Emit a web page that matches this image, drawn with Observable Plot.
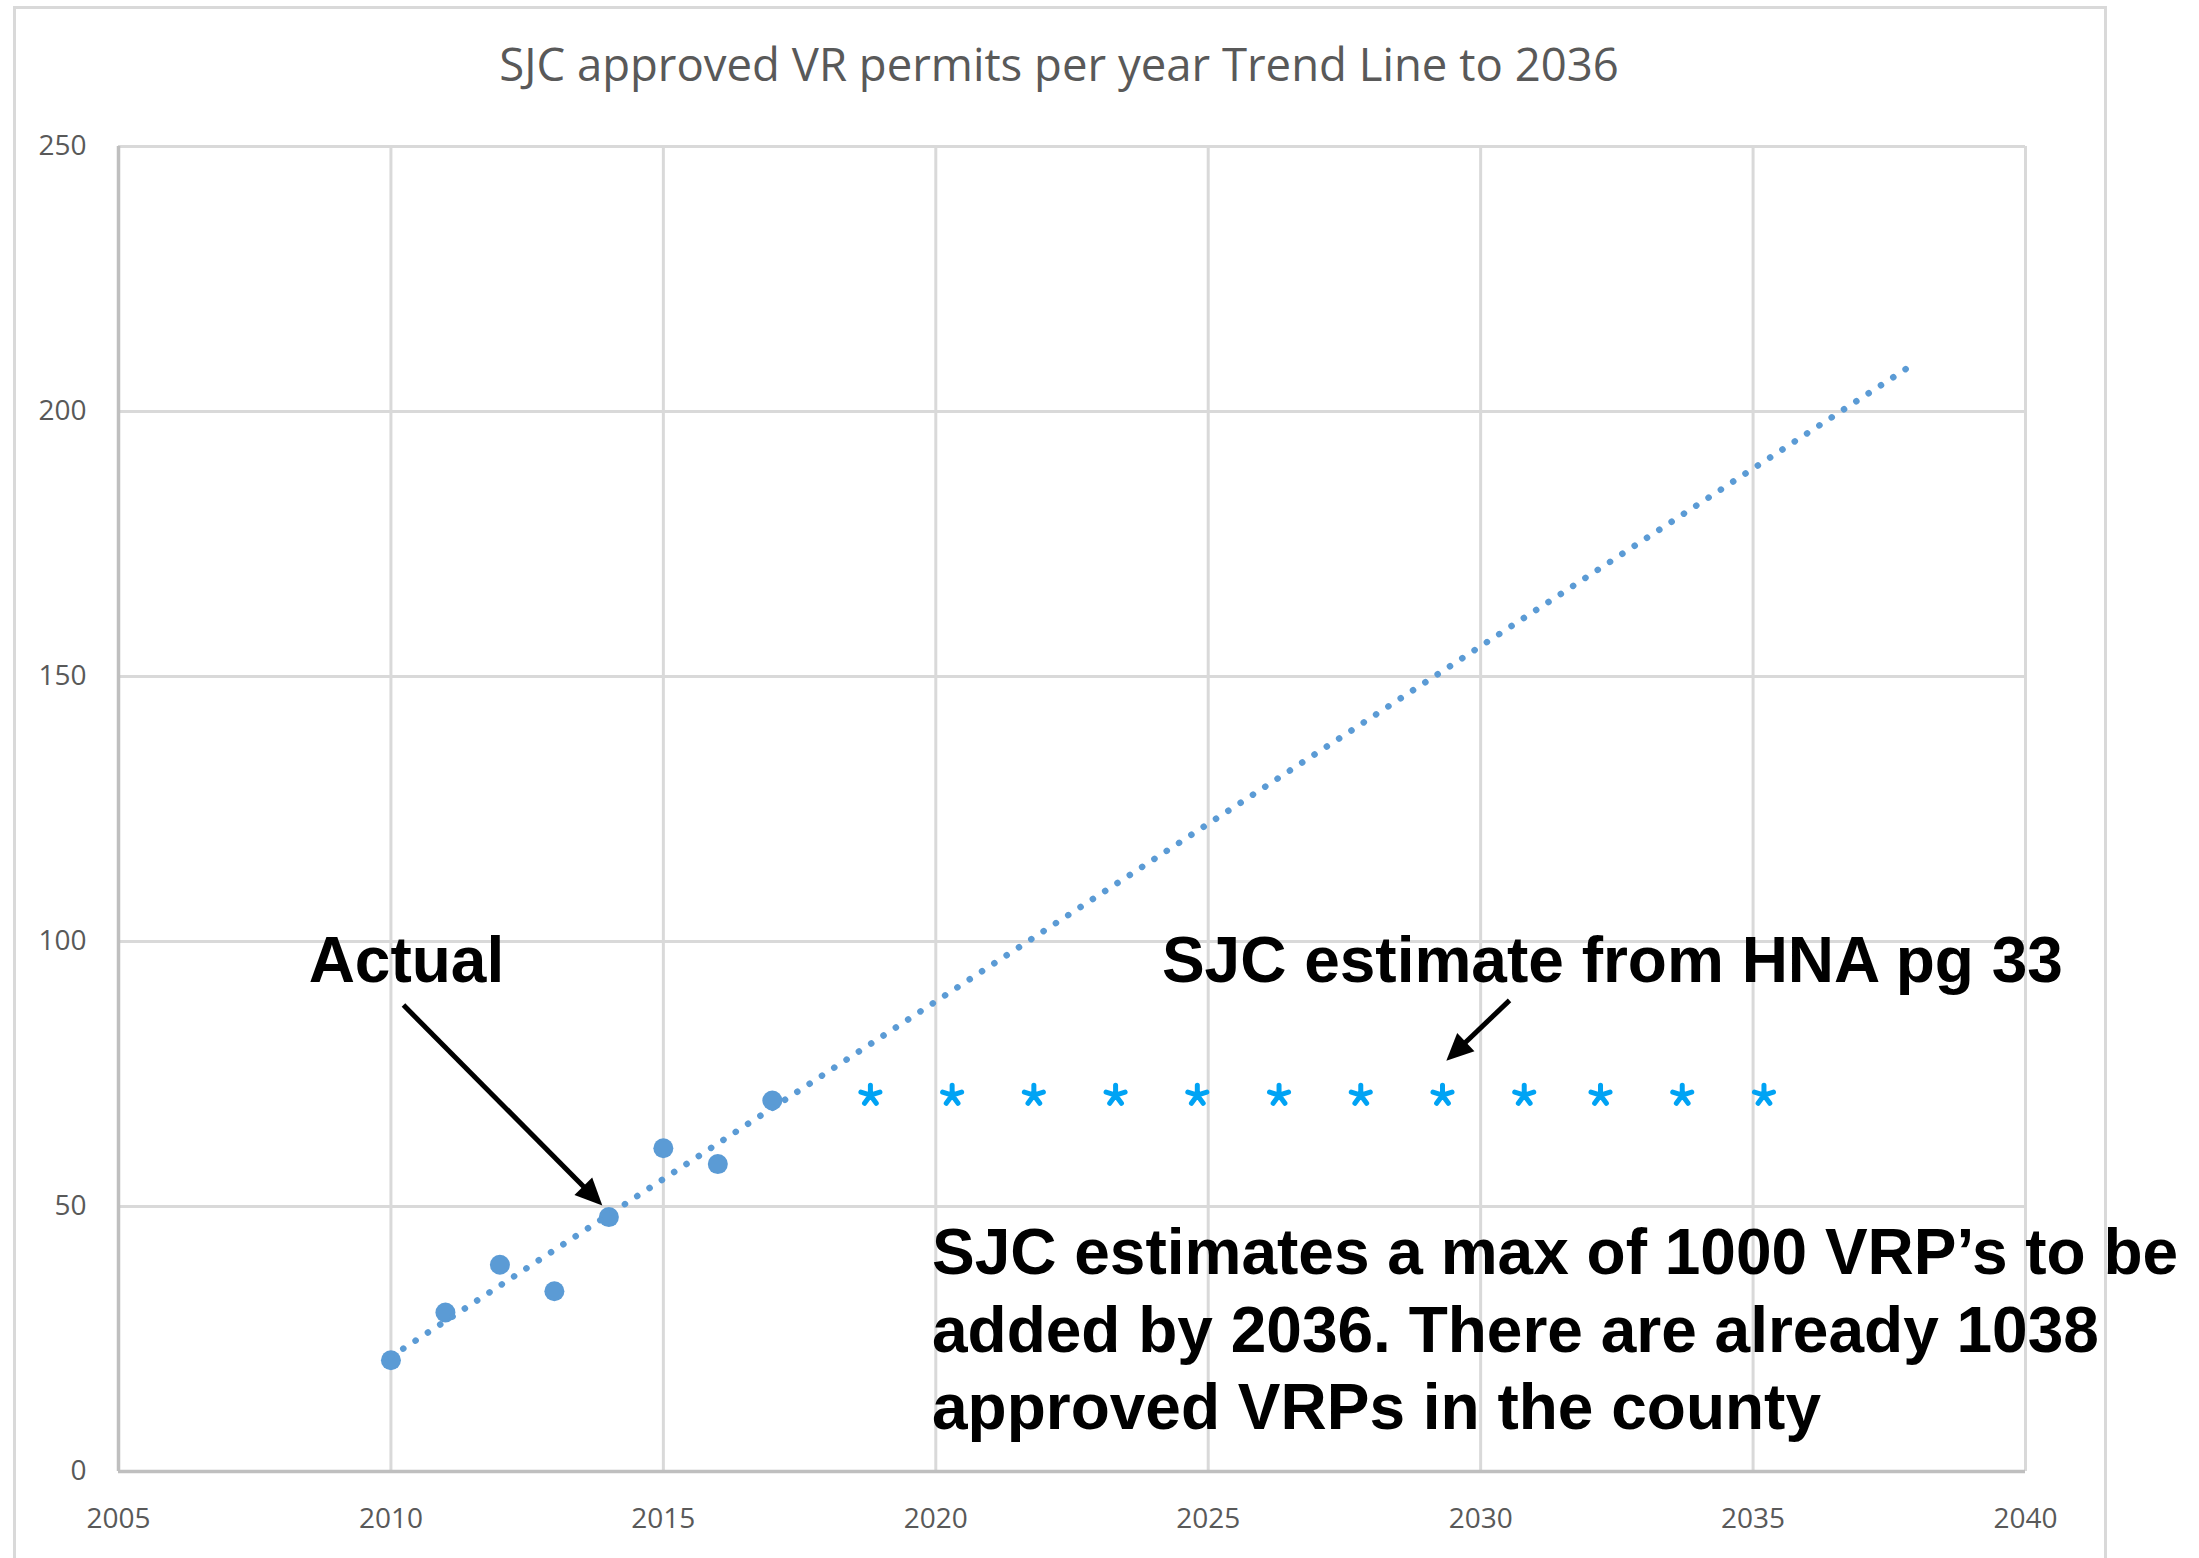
<!DOCTYPE html>
<html>
<head>
<meta charset="utf-8">
<script src="https://cdn.jsdelivr.net/npm/d3@7"></script>
<script src="https://cdn.jsdelivr.net/npm/@observablehq/plot@0.6"></script>
<style>
  html, body { margin: 0; padding: 0; background: #fff; overflow: hidden; }
  #page { position: relative; width: 2199px; height: 1558px; overflow: hidden; background: #fff; }
  #frame { position: absolute; left: 13px; top: 6px; width: 2088px; height: 1620px; border: 3px solid #d9d9d9; }
  #title { position: absolute; left: 14px; width: 2090px; top: 41px; line-height: 1; text-align: center;
           font-family: "Open Sans", sans-serif; font-size: 45.5px; color: #595959; white-space: nowrap; }
  #chart { position: absolute; left: 0; top: 0; }
</style>
</head>
<body>
<div id="page">
  <div id="frame"></div>
  <div id="title">SJC approved VR permits per year Trend Line to 2036</div>
  <div id="chart"></div>
</div>
<script>
// ---- data ----
const years = [2010, 2011, 2012, 2013, 2014, 2015, 2016, 2017];
const permits = [21, 30, 39, 34, 48, 61, 58, 70];
const trendYears = [2010, 2038];
const hnaYears = [2018.8, 2020.3, 2021.8, 2023.3, 2024.8, 2026.3, 2027.8, 2029.3, 2030.8, 2032.2, 2033.7, 2035.2];
const hnaValues = [71, 71, 71, 71, 71, 71, 71, 71, 71, 71, 71, 71];
const xTicks = [2005, 2010, 2015, 2020, 2025, 2030, 2035, 2040];
const yTicks = [0, 50, 100, 150, 200, 250];
const labelTexts = ["Actual", "SJC estimate from HNA pg 33"];
const labelYears = [2008.49, 2024.15];
const labelValues = [92.3, 92.3];
const noteText = "SJC estimates a max of 1000 VRP\u2019s to be\nadded by 2036. There are already 1038\napproved VRPs in the county";
const noteYear = 2019.93;
const noteValue = 8.0;
const arrowFromYears = [2010.23, 2030.53];
const arrowFromValues = [88.0, 88.9];
const arrowToYears = [2013.88, 2029.37];
const arrowToValues = [50.2, 77.5];

// ---- layout ----
const W = 2199, H = 1558;
const mt = 146, mr = 174, mb = 87, ml = 118;
const pxX = (W - ml - mr) / (xTicks[xTicks.length - 1] - xTicks[0]);
const pxY = (H - mt - mb) / (yTicks[yTicks.length - 1] - yTicks[0]);

// ---- derived tables ----
const actual = years.map((y, i) => ({year: y, value: permits[i]}));
const mx = d3.mean(years), my = d3.mean(permits);
const slope = d3.sum(years, (x, i) => (x - mx) * (permits[i] - my)) / d3.sum(years, x => (x - mx) ** 2);
const trend = trendYears.map(x => ({year: x, value: my + slope * (x - mx)}));
const hna = hnaYears.map((y, i) => ({year: y, value: hnaValues[i]}));
const labels = labelTexts.map((t, i) => ({text: t, year: labelYears[i], value: labelValues[i]}));
const note = [{text: noteText, year: noteYear, value: noteValue}];

const headLen = 27, headW = 25;
const arrows = arrowFromYears.map((x1, i) => {
  const y1 = arrowFromValues[i], x2 = arrowToYears[i], y2 = arrowToValues[i];
  const dx = (x2 - x1) * pxX, dy = -(y2 - y1) * pxY;
  const len = Math.hypot(dx, dy);
  const k = 1 - (headLen * 0.6) / len;
  return {x1, y1, x2, y2, xe: x1 + (x2 - x1) * k, ye: y1 + (y2 - y1) * k,
          angle: Math.atan2(dy, dx) * 180 / Math.PI};
});

const arrowHead = {
  draw(ctx) {
    ctx.moveTo(0, 0);
    ctx.lineTo(-headLen, -headW / 2);
    ctx.lineTo(-headLen, headW / 2);
    ctx.closePath();
  }
};
const asterisk = {
  draw(ctx, size) {
    const r = Math.sqrt(size / Math.PI);
    for (let k = 0; k < 5; ++k) {
      const a = (-90 + 72 * k) * Math.PI / 180;
      ctx.moveTo(0, 0);
      ctx.lineTo(r * Math.cos(a), r * Math.sin(a));
    }
  }
};

const boldFont = "'Liberation Sans', Arial, Helvetica, sans-serif";
const blue = "#5b9bd5";

const chart = Plot.plot({
  width: W, height: H,
  marginTop: mt, marginRight: mr, marginBottom: mb, marginLeft: ml,
  style: {background: "transparent", fontFamily: "'Open Sans', sans-serif", fontSize: "28px", color: "#595959", overflow: "visible"},
  x: {domain: [xTicks[0], xTicks[xTicks.length - 1]], ticks: xTicks, tickFormat: d => String(d), tickSize: 0, tickPadding: 37, label: null},
  y: {domain: [yTicks[0], yTicks[yTicks.length - 1]], ticks: yTicks, tickSize: 0, tickPadding: 32, label: null},
  marks: [
    Plot.ruleX(xTicks, {stroke: "#d9d9d9", strokeWidth: 3}),
    Plot.ruleY(yTicks, {stroke: "#d9d9d9", strokeWidth: 3}),
    Plot.ruleX([xTicks[0]], {stroke: "#bfbfbf", strokeWidth: 3.5}),
    Plot.ruleY([yTicks[0]], {stroke: "#bfbfbf", strokeWidth: 3.5}),
    Plot.dot(actual, {x: "year", y: "value", r: 10, fill: blue}),
    Plot.line(trend, {x: "year", y: "value", stroke: blue, strokeWidth: 6.5, strokeLinecap: "round", strokeDasharray: "0.1 14.6"}),
    Plot.dot(hna, {x: "year", y: "value", r: 10, symbol: asterisk, stroke: "#00a3f4", strokeWidth: 5, fill: "none", strokeLinecap: "round"}),
    Plot.link(arrows, {x1: "x1", y1: "y1", x2: "xe", y2: "ye", stroke: "black", strokeWidth: 5}),
    Plot.dot(arrows, {x: "x2", y: "y2", r: 10, symbol: arrowHead, rotate: "angle", fill: "black", stroke: "none"}),
    Plot.text(labels, {x: "year", y: "value", text: "text", textAnchor: "start", lineAnchor: "bottom", fontFamily: boldFont, fontWeight: "bold", fontSize: 64, fill: "black"}),
    Plot.text(note, {x: "year", y: "value", text: "text", textAnchor: "start", lineAnchor: "bottom", lineHeight: 1.208, fontFamily: boldFont, fontWeight: "bold", fontSize: 64, fill: "black"})
  ]
});
document.getElementById("chart").appendChild(chart);
</script>
</body>
</html>
